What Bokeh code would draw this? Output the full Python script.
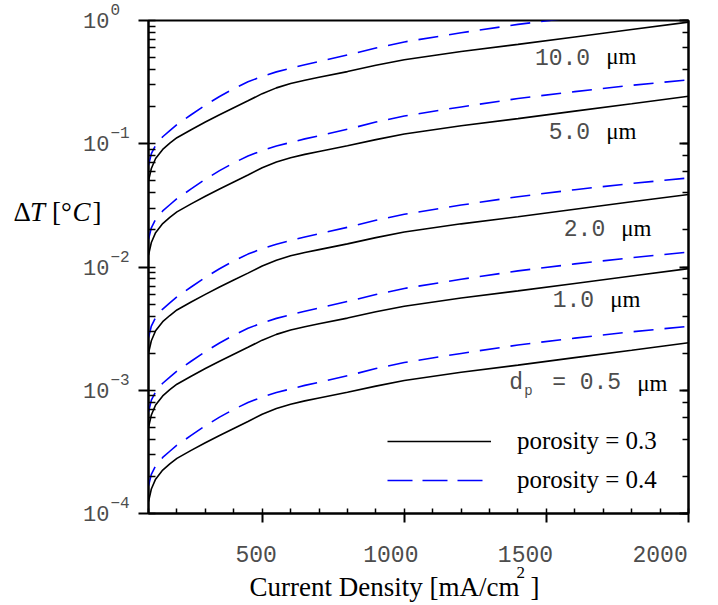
import math
from bokeh.plotting import figure
from bokeh.layouts import row, column
from bokeh.models import (Range1d, LogAxis, SingleIntervalTicker, LogTicker,
                          Legend, LegendItem, CustomJSTickFormatter, ColumnDataSource)
from bokeh.core.properties import value
from bokeh.embed import file_html
from bokeh.resources import INLINE

# ---------------- data ----------------
current_density = [100, 110, 125, 150, 175, 200, 250, 300, 350, 400, 450, 500, 550,
                   600, 650, 700, 800, 900, 1000, 1200, 1400, 1600, 1800, 2000]

# porosity = 0.3 (solid black)
dT_03_10um = [0.050, 0.063, 0.076, 0.090, 0.101, 0.112, 0.130, 0.150, 0.172, 0.196, 0.223, 0.255,
              0.284, 0.308, 0.328, 0.346, 0.385, 0.433, 0.480, 0.560, 0.640, 0.735, 0.845, 0.970]
dT_03_5um = [0.0125, 0.0158, 0.019, 0.0225, 0.0253, 0.028, 0.0325, 0.0375, 0.043, 0.049, 0.0558, 0.0638,
             0.071, 0.077, 0.082, 0.0865, 0.0963, 0.108, 0.12, 0.14, 0.16, 0.184, 0.211, 0.243]
dT_03_2um = [0.002, 0.00252, 0.00304, 0.0036, 0.00404, 0.00448, 0.0052, 0.006, 0.00688, 0.00784, 0.00892, 0.0102,
             0.01136, 0.01232, 0.01312, 0.01384, 0.0154, 0.01732, 0.0192, 0.0224, 0.0256, 0.0294, 0.0338, 0.0388]
dT_03_1um = [0.0005, 0.00063, 0.00076, 0.0009, 0.00101, 0.00112, 0.0013, 0.0015, 0.00172, 0.00196, 0.00223, 0.00255,
             0.00284, 0.00308, 0.00328, 0.00346, 0.00385, 0.00433, 0.0048, 0.0056, 0.0064, 0.00735, 0.00845, 0.0097]
dT_03_05um = [0.000125, 0.000158, 0.00019, 0.000225, 0.000253, 0.00028, 0.000325, 0.000375, 0.00043, 0.00049,
              0.000558, 0.000638, 0.00071, 0.00077, 0.00082, 0.000865, 0.000963, 0.00108, 0.0012, 0.0014,
              0.0016, 0.00184, 0.00211, 0.00243]

# porosity = 0.4 (dashed blue)
dT_04_10um = [0.067, 0.083, 0.097, 0.114, 0.128, 0.143, 0.172, 0.206, 0.242, 0.280, 0.318, 0.352,
              0.383, 0.410, 0.438, 0.465, 0.525, 0.598, 0.670, 0.795, 0.930, 1.06, 1.19, 1.32]
dT_04_5um = [0.0168, 0.0208, 0.0243, 0.0285, 0.0320, 0.0358, 0.0430, 0.0515, 0.0605, 0.0700, 0.0795, 0.0880,
             0.0958, 0.1025, 0.1095, 0.116, 0.131, 0.150, 0.168, 0.199, 0.233, 0.265, 0.298, 0.330]
dT_04_2um = [0.00268, 0.00332, 0.00388, 0.00456, 0.00512, 0.00572, 0.00688, 0.00824, 0.00968, 0.0112, 0.01272,
             0.01408, 0.01532, 0.0164, 0.01752, 0.0186, 0.021, 0.02392, 0.0268, 0.0318, 0.0372, 0.0424,
             0.0476, 0.0528]
dT_04_1um = [0.00067, 0.00083, 0.00097, 0.00114, 0.00128, 0.00143, 0.00172, 0.00206, 0.00242, 0.0028, 0.00318,
             0.00352, 0.00383, 0.0041, 0.00438, 0.00465, 0.00525, 0.00598, 0.0067, 0.00795, 0.0093, 0.0106,
             0.0119, 0.0132]
dT_04_05um = [0.000168, 0.000208, 0.000243, 0.000285, 0.00032, 0.000358, 0.00043, 0.000515, 0.000605, 0.0007,
              0.000795, 0.00088, 0.000958, 0.001025, 0.001095, 0.00116, 0.00131, 0.0015, 0.00168, 0.00199,
              0.00233, 0.00265, 0.00298, 0.0033]

size_labels = ["10.0", "5.0", "2.0", "1.0", "= 0.5"]
size_label_x = [1654, 1654, 1707, 1668, 1763]
size_label_y = [0.431, 0.1064, 0.01738, 0.004615, 0.00096]

x_tick_values = [500, 1000, 1500, 2000]
x_tick_labels = ["500", "1000", "1500", "2000"]
y_tick_values = [1.0, 0.1, 0.01, 0.001, 0.0001]
y_tick_exponents = ["0", "\u22121", "\u22122", "\u22123", "\u22124"]

legend_labels = ["porosity = 0.3", "porosity = 0.4"]
x_title = ["Current Density [mA/cm", "2", "]"]
y_title = ["\u0394", "T", "[\u00b0", "C", "]"]

# ---------------- geometry / styles ----------------
MONO = "Liberation Mono"
SERIF = "Liberation Serif"
GRAY = "#4d4d4d"
X0, X1 = 100, 2000
Y0, Y1 = 1e-4, 1.0
FRAME_W, FRAME_H = 540, 493
LEFT_W = 136
MAIN_W = 718 - LEFT_W
MAIN_H = 527
BOT_H = 605 - MAIN_H
FRAME_L = 148 - LEFT_W
px_per_x = FRAME_W / (X1 - X0)
px_per_dec = FRAME_H / 4.0
TXT_SHIFT = -9   # raise glyph texts so their ink sits where the reference has it

# ---------------- main plot ----------------
p = figure(width=MAIN_W, height=MAIN_H, output_backend="svg", toolbar_location=None,
           x_range=Range1d(X0, X1), y_range=Range1d(Y0, Y1), y_axis_type="log",
           min_border_left=FRAME_L, min_border_right=MAIN_W - FRAME_L - FRAME_W,
           min_border_top=20, min_border_bottom=MAIN_H - 20 - FRAME_H)
p.grid.visible = False
p.outline_line_color = "black"
p.outline_line_width = 2

xa = p.xaxis[0]
xa.ticker = SingleIntervalTicker(interval=500, num_minor_ticks=5)
xa.formatter = CustomJSTickFormatter(code="return ''")
xa.major_label_text_font_size = "0px"
xa.major_label_standoff = 0
xa.axis_line_width = 2
xa.major_tick_out, xa.major_tick_in = 9, 0
xa.minor_tick_out, xa.minor_tick_in = 0, 5
xa.major_tick_line_width = 2
xa.minor_tick_line_width = 1.5

ya = p.yaxis[0]
ya.formatter = CustomJSTickFormatter(code="return ''")
ya.major_label_text_font_size = "0px"
ya.major_label_standoff = 0
ya.axis_line_width = 2
ya.major_tick_out, ya.major_tick_in = 10, 0
ya.minor_tick_out, ya.minor_tick_in = 0, 7
ya.major_tick_line_width = 2
ya.minor_tick_line_width = 1.5

ra = LogAxis(ticker=LogTicker(), formatter=CustomJSTickFormatter(code="return ''"),
             major_label_text_font_size="0px", major_label_standoff=0,
             axis_line_width=2, major_tick_out=0, major_tick_in=9,
             minor_tick_out=0, minor_tick_in=6, major_tick_line_width=2,
             minor_tick_line_width=1.5)
p.add_layout(ra, "right")

black_series = [dT_03_10um, dT_03_5um, dT_03_2um, dT_03_1um, dT_03_05um]
blue_series = [dT_04_10um, dT_04_5um, dT_04_2um, dT_04_1um, dT_04_05um]
for ys in blue_series:
    p.line(current_density, ys, line_color="#0000ff", line_width=1.6, line_dash="20 11")
for ys in black_series:
    p.line(current_density, ys, line_color="black", line_width=1.6)

lab_src = ColumnDataSource(dict(x=size_label_x, y=size_label_y, t=size_labels,
                                mu=["\u03bcm"] * len(size_labels)))
p.text(x="x", y="y", text="t", source=lab_src, y_offset=TXT_SHIFT, text_font=value(MONO),
       text_font_size="23px", text_color=GRAY, text_align="right", text_baseline="alphabetic")
p.text(x="x", y="y", text="mu", source=lab_src, x_offset=16, y_offset=TXT_SHIFT,
       text_font=value(SERIF), text_font_size="23px", text_color="black",
       text_align="left", text_baseline="alphabetic")
dp_src = ColumnDataSource(dict(x=size_label_x[-1:], y=size_label_y[-1:], d=["d"], s=["p"]))
p.text(x="x", y="y", text="d", source=dp_src, x_offset=-98, y_offset=TXT_SHIFT,
       text_font=value(MONO), text_font_size="23px", text_color=GRAY,
       text_align="right", text_baseline="alphabetic")
p.text(x="x", y="y", text="s", source=dp_src, x_offset=-97, y_offset=TXT_SHIFT + 8,
       text_font=value(MONO), text_font_size="14px", text_color=GRAY,
       text_align="left", text_baseline="alphabetic")

nan_src = ColumnDataSource(dict(x=[float("nan")], y=[float("nan")]))
leg_black = p.line("x", "y", source=nan_src, line_color="black", line_width=1.6)
leg_blue = p.line("x", "y", source=nan_src, line_color="#0000ff", line_width=1.6, line_dash="25 10")
legend = Legend(items=[LegendItem(label=legend_labels[0], renderers=[leg_black]),
                       LegendItem(label=legend_labels[1], renderers=[leg_blue])],
                location=(239, 19), glyph_width=104, glyph_height=28, label_height=28,
                spacing=11, label_standoff=26, padding=0, margin=0,
                border_line_alpha=0, background_fill_alpha=0,
                label_text_font=SERIF, label_text_font_size="25px", label_text_color="black")
p.add_layout(legend)

# ---------------- left strip: y tick labels and y title ----------------
top_pad, bot_pad = 20, 605 - 20 - FRAME_H
ly0 = 10 ** (math.log10(Y0) - bot_pad / px_per_dec)
ly1 = 10 ** (math.log10(Y1) + top_pad / px_per_dec)
pl = figure(width=LEFT_W, height=605, output_backend="svg", toolbar_location=None,
            x_range=Range1d(0, LEFT_W), y_range=Range1d(ly0, ly1), y_axis_type="log",
            x_axis_location=None, y_axis_location=None,
            min_border_left=0, min_border_right=0, min_border_top=0, min_border_bottom=0)
pl.grid.visible = False
pl.outline_line_color = None
n_ticks = len(y_tick_values)
pl.text(x=[109] * n_ticks, y=y_tick_values, text=["10"] * n_ticks, y_offset=0,
        text_font=value(MONO), text_font_size="22px", text_color=GRAY,
        text_align="right", text_baseline="alphabetic")
pl.text(x=[110] * n_ticks, y=y_tick_values, text=y_tick_exponents, y_offset=-11,
        text_font=value(MONO), text_font_size="16px", text_color=GRAY,
        text_align="left", text_baseline="alphabetic")
y_title_x = [13, 29.5, 51.5, 72, 92]
y_title_style = ["normal", "italic", "normal", "italic", "normal"]
y_title_level = 10 ** (-(222.3 - 20) / px_per_dec)
pl.text(x=y_title_x, y=[y_title_level] * len(y_title), text=y_title, y_offset=-11,
        text_font=value(SERIF), text_font_style=y_title_style, text_font_size="27px",
        text_color="black", text_align="left", text_baseline="alphabetic")

# ---------------- bottom strip: x tick labels and x title ----------------
bx1 = X0 + (MAIN_W - FRAME_L) / px_per_x
pb = figure(width=MAIN_W, height=BOT_H, output_backend="svg", toolbar_location=None,
            x_range=Range1d(X0, bx1), y_range=Range1d(BOT_H, 0),
            x_axis_location=None, y_axis_location=None,
            min_border_left=FRAME_L, min_border_right=0, min_border_top=0, min_border_bottom=0)
pb.grid.visible = False
pb.outline_line_color = None
pb.text(x=x_tick_values, y=[30.5] * len(x_tick_values), text=x_tick_labels, y_offset=-4,
        text_font=value(MONO), text_font_size="23px", text_color=GRAY,
        text_align="center", text_baseline="alphabetic")
title_x = X0 + (255 - 148.3) / px_per_x
pb.text(x=[title_x] * 3, y=[68, 53, 68], text=x_title, x_offset=[0, 267, 281],
        y_offset=[-9, -8, -9],
        text_font=value(SERIF), text_font_size=["27px", "17px", "27px"], text_color="black",
        text_align="left", text_baseline="alphabetic")

layout = row(pl, column(p, pb))
open("out.html", "w").write(file_html(layout, INLINE))
